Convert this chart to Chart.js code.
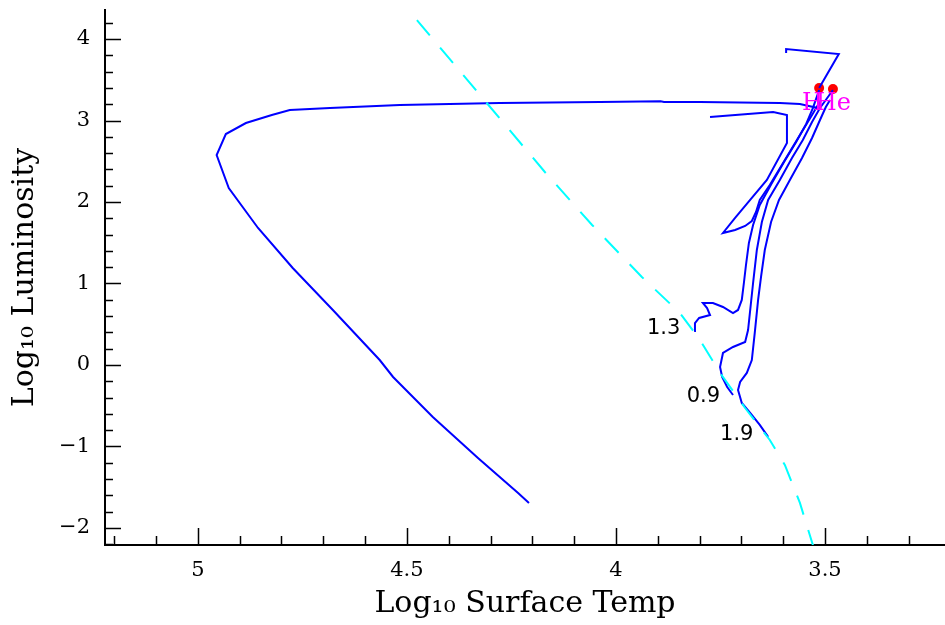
<!DOCTYPE html>
<html><head><meta charset="utf-8">
<script src="https://cdn.jsdelivr.net/npm/chart.js@4/dist/chart.umd.min.js"></script>
<style>html,body{margin:0;padding:0;background:#fff}canvas{display:block}</style>
</head><body>
<canvas id="c" width="945" height="625"></canvas>
<script>
// ---- data (log10 Teff, log10 L) ----
const zamsT = [4.476,4.309,4.170,4.057,3.938,3.847,3.799,3.751,3.691,3.632,3.596,3.560,3.529,3.512];
const zamsL = [4.233,3.215,2.368,1.718,1.080,0.638,0.307,-0.098,-0.528,-0.920,-1.227,-1.693,-2.209,-2.577];

const t09T = [3.720,3.734,3.746,3.751,3.744,3.720,3.691,3.684,3.672,3.663,3.651,3.636,3.608,3.579,3.553,3.531,3.512,3.493,3.481];
const t09L = [-0.368,-0.270,-0.147,-0.025,0.147,0.221,0.282,0.429,1.006,1.411,1.755,2.025,2.270,2.540,2.761,2.982,3.153,3.288,3.374];

const t13T = [3.813,3.811,3.801,3.775,3.782,3.792,3.768,3.744,3.720,3.708,3.699,3.694,3.689,3.682,3.672,3.656,3.627,3.598,3.569,3.545,3.529,3.514];
const t13L = [0.417,0.515,0.577,0.613,0.699,0.761,0.761,0.712,0.638,0.675,0.798,1.006,1.227,1.497,1.718,1.963,2.233,2.491,2.736,2.957,3.153,3.374];

const t19T = [3.636,3.656,3.679,3.699,3.708,3.703,3.687,3.675,3.668,3.660,3.653,3.644,3.629,3.610,3.584,3.555,3.531,3.512,3.498,3.488];
const t19L = [-0.883,-0.736,-0.589,-0.466,-0.307,-0.209,-0.098,0.061,0.393,0.798,1.080,1.411,1.755,2.025,2.270,2.540,2.785,3.006,3.166,3.252];

const loopT = [3.775,3.624,3.591,3.591,3.639,3.679,3.715,3.744,3.715,3.691,3.675,3.665,3.656,3.632,3.596,3.560,3.531,3.517];
const loopL = [3.043,3.104,3.067,2.724,2.270,2.025,1.804,1.620,1.656,1.706,1.767,1.877,2.025,2.209,2.515,2.822,3.067,3.190];

const hookT = [3.593,3.593,3.467,3.514];
const hookL = [3.828,3.877,3.816,3.399];

const postT = [3.510,3.517,3.560,3.608,3.799,3.885,3.893,4.038,4.278,4.517,4.684,4.780,4.823,4.885,4.933,4.955,4.926,4.856,4.773,4.677,4.565,4.533,4.438,4.330,4.234,4.208];
const postL = [3.250,3.153,3.202,3.215,3.227,3.227,3.235,3.227,3.215,3.190,3.153,3.129,3.067,2.969,2.834,2.577,2.172,1.681,1.190,0.675,0.061,-0.147,-0.638,-1.141,-1.571,-1.693];

const dotT = [3.514,3.481];
const dotL = [3.399,3.387];

const massLabels = ['1.3','0.9','1.9'];
const massLabelT = [3.886,3.791,3.711];
const massLabelL = [0.442,-0.393,-0.859];

const flashLabels = ['H','He'];
const flashLabelT = [3.530,3.480];
const flashLabelL = [3.203,3.203];

const xTickVals = [5,4.5,4,3.5];
const yTickVals = [-2,-1,0,1,2,3,4];

// ---- build ----
const pts = (T,L) => T.map((t,i)=>({x:t,y:L[i]}));
const track = (T,L) => ({data:pts(T,L), showLine:true, borderColor:'#0000ff', borderWidth:2, pointRadius:0, fill:false, tension:0});

const decor = {
  id:'decor',
  afterDatasetsDraw(chart){
    const {ctx, scales:{x,y}, chartArea:a} = chart;
    ctx.save();
    ctx.strokeStyle = '#000'; ctx.lineWidth = 1.5;
    ctx.beginPath();
    for (let k=30;k<=53;k++){
      const px = Math.round(x.getPixelForValue(k/10))+0.5;
      if (px < a.left+2 || px > a.right) continue;
      const len = (k%5===0) ? 17 : 9;
      ctx.moveTo(px,a.bottom); ctx.lineTo(px,a.bottom-len);
    }
    for (let k=-12;k<=22;k++){
      const py = Math.round(y.getPixelForValue(k*0.2))+0.5;
      if (py < a.top || py > a.bottom) continue;
      const len = (k%5===0) ? 16 : 8;
      ctx.moveTo(a.left,py); ctx.lineTo(a.left+len,py);
    }
    ctx.stroke();
    ctx.textAlign='center'; ctx.textBaseline='middle';
    ctx.fillStyle='#000'; ctx.font='21px "DejaVu Sans"';
    massLabels.forEach((s,i)=>ctx.fillText(s, x.getPixelForValue(massLabelT[i]), y.getPixelForValue(massLabelL[i])));
    ctx.fillStyle='#ff00ff'; ctx.font='24px "DejaVu Serif"';
    flashLabels.forEach((s,i)=>ctx.fillText(s, x.getPixelForValue(flashLabelT[i]), y.getPixelForValue(flashLabelL[i])));
    ctx.restore();
  }
};

new Chart(document.getElementById('c'), {
  type:'scatter',
  data:{datasets:[
    {data:pts(zamsT,zamsL), showLine:true, borderColor:'#00ffff', borderWidth:2, borderDash:[20,16], pointRadius:0, fill:false},
    track(postT,postL),
    track(t09T,t09L),
    track(t13T,t13L),
    track(t19T,t19L),
    track(loopT,loopL),
    track(hookT,hookL),
    {data:pts(dotT,dotL), showLine:false, pointRadius:5, pointBackgroundColor:'#ff0000', pointBorderWidth:0, pointBorderColor:'#ff0000'}
  ]},
  options:{
    responsive:false, animation:false, devicePixelRatio:1,
    layout:{autoPadding:false, padding:{top:10,right:0,left:0,bottom:0}},
    plugins:{legend:{display:false}, tooltip:{enabled:false}},
    scales:{
      x:{type:'linear', reverse:true, min:3.213, max:5.222,
        grid:{display:false, drawTicks:false},
        border:{display:true, color:'#000', width:2},
        afterBuildTicks:s=>{s.ticks = xTickVals.map(v=>({value:v}));},
        afterFit:s=>{s.height = 80; s.paddingLeft = 0; s.paddingRight = 0;},
        ticks:{autoSkip:false, maxRotation:0, padding:13, color:'#000', font:{family:'"DejaVu Serif"', size:21},
          callback:v=>String(v)},
        title:{display:true, text:'Log₁₀ Surface Temp', color:'#000', font:{family:'"DejaVu Serif"', size:30}, padding:{top:0,bottom:3}}
      },
      y:{type:'linear', min:-2.209, max:4.356,
        grid:{display:false, drawTicks:false},
        border:{display:true, color:'#000', width:2},
        afterBuildTicks:s=>{s.ticks = yTickVals.map(v=>({value:v}));},
        afterFit:s=>{s.width = 105; s.paddingTop = 0; s.paddingBottom = 0;},
        ticks:{autoSkip:false, padding:15, color:'#000', font:{family:'"DejaVu Serif"', size:21},
          callback:v=> v<0 ? '\u2212'+Math.abs(v) : String(v)},
        title:{display:true, text:'Log₁₀ Luminosity', color:'#000', font:{family:'"DejaVu Serif"', size:30}, padding:{top:7,bottom:0}}
      }
    }
  },
  plugins:[decor]
});
</script>
</body></html>
